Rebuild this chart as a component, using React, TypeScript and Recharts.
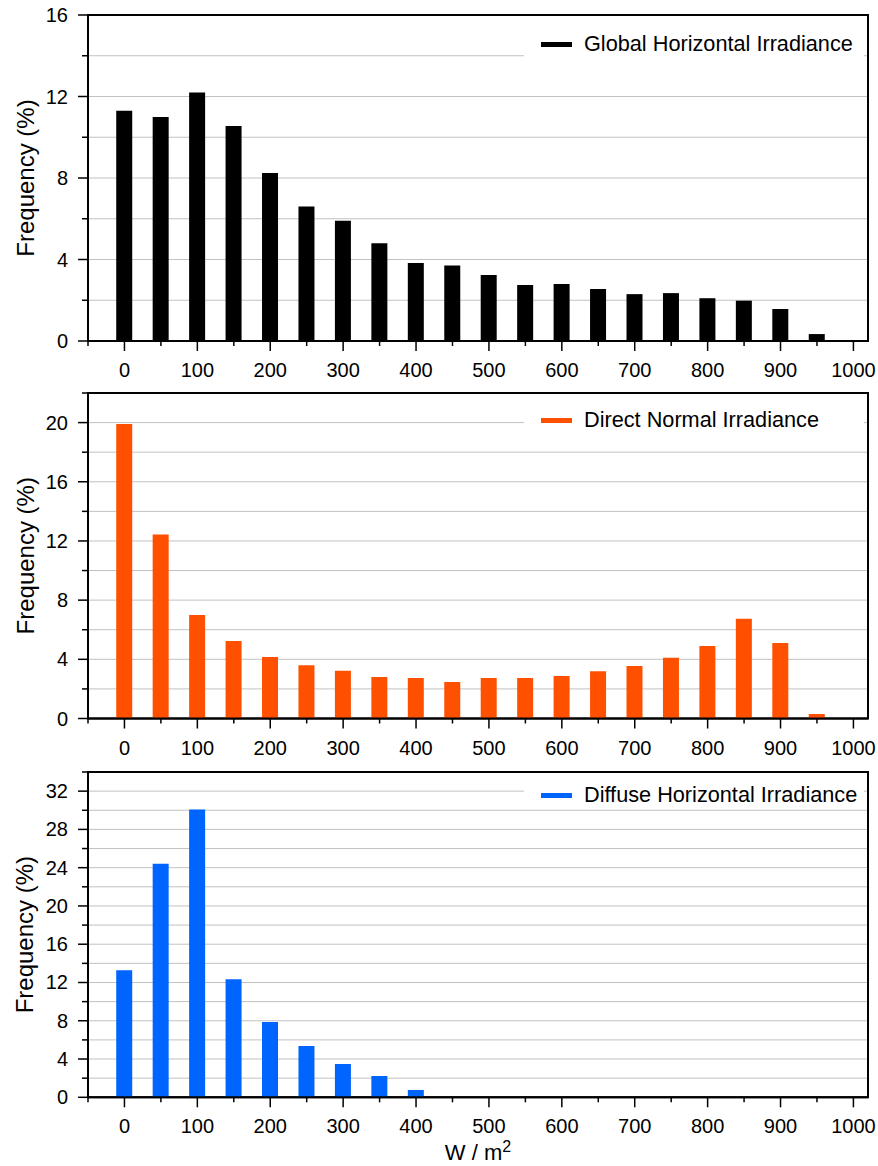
import React from "react";
import { Bar, BarChart, CartesianGrid, Legend, ReferenceArea, XAxis, YAxis } from "recharts";

const bins = [0, 50, 100, 150, 200, 250, 300, 350, 400, 450, 500, 550, 600, 650, 700, 750, 800, 850, 900, 950];

const ghiValues = [11.3, 11.0, 12.2, 10.55, 8.25, 6.6, 5.9, 4.8, 3.83, 3.7, 3.24, 2.75, 2.8, 2.55, 2.3, 2.35, 2.1, 1.98, 1.57, 0.34];
const dniValues = [19.9, 12.43, 7.0, 5.24, 4.16, 3.6, 3.22, 2.8, 2.73, 2.46, 2.73, 2.73, 2.87, 3.2, 3.55, 4.1, 4.9, 6.75, 5.1, 0.3];
const dhiValues = [13.28, 24.42, 30.09, 12.35, 7.86, 5.36, 3.48, 2.22, 0.76, 0, 0, 0, 0, 0, 0, 0, 0, 0, 0, 0];

const xTicks = [-50, 0, 50, 100, 150, 200, 250, 300, 350, 400, 450, 500, 550, 600, 650, 700, 750, 800, 850, 900, 950, 1000];
const ghiTicks = [0, 2, 4, 6, 8, 10, 12, 14, 16];
const dniTicks = [0, 2, 4, 6, 8, 10, 12, 14, 16, 18, 20, 22];
const dhiTicks = [0, 2, 4, 6, 8, 10, 12, 14, 16, 18, 20, 22, 24, 26, 28, 30, 32, 34];

const FONT = '"Liberation Sans", Arial, Helvetica, sans-serif';
const X_MIN = -50;
const X_MAX = 1020;

function XTick(props: any) {
  const { x, y, payload } = props;
  const major = payload.value % 100 === 0;
  return (
    <g>
      <line x1={x} x2={x} y1={y} y2={y + (major ? 10 : 5)} stroke="#000" strokeWidth={1.5} />
      {major && (
        <text x={x} y={y + 36} textAnchor="middle" fontSize={20} fontFamily={FONT} fill="#000">
          {payload.value}
        </text>
      )}
    </g>
  );
}

function YTick(props: any) {
  const { x, y, payload } = props;
  const major = payload.value % 4 === 0;
  return (
    <g>
      <line x1={x} x2={x - (major ? 10 : 6)} y1={y} y2={y} stroke="#000" strokeWidth={1.5} />
      {major && (
        <text x={x - 20} y={y + 7} textAnchor="end" fontSize={20} fontFamily={FONT} fill="#000">
          {payload.value}
        </text>
      )}
    </g>
  );
}

type PanelProps = {
  values: number[];
  color: string;
  name: string;
  yTicks: number[];
  top: number;
  height: number;
  marginTop: number;
  marginBottom: number;
  legendTop: number;
  showTitle?: boolean;
};

function Panel({ values, color, name, yTicks, top, height, marginTop, marginBottom, legendTop, showTitle }: PanelProps) {
  const data = bins.map((bin, i) => ({ bin, value: values[i] }));
  const yMax = yTicks[yTicks.length - 1];
  return (
    <div style={{ position: "absolute", left: 0, top }}>
      <BarChart
        width={878}
        height={height}
        data={data}
        margin={{ top: marginTop, right: 10, bottom: marginBottom, left: 28 }}
      >
        <CartesianGrid vertical={false} stroke="#c2c2c2" strokeWidth={1} />
        <XAxis
          type="number"
          dataKey="bin"
          domain={[X_MIN, X_MAX]}
          ticks={xTicks}
          interval={0}
          allowDataOverflow
          tick={<XTick />}
          tickLine={false}
          tickSize={0}
          tickMargin={0}
          axisLine={{ stroke: "#000", strokeWidth: 2 }}
          height={40}
          label={
            showTitle
              ? {
                  content: (p: any) => {
                    const vb = p.viewBox;
                    return (
                      <text
                        x={vb.x + vb.width / 2}
                        y={vb.y + 63}
                        textAnchor="middle"
                        fontSize={22}
                        fontFamily={FONT}
                        fill="#000"
                      >
                        W / m
                        <tspan dy={-8} fontSize={16}>
                          2
                        </tspan>
                      </text>
                    );
                  },
                }
              : undefined
          }
        />
        <YAxis
          type="number"
          domain={[0, yMax]}
          ticks={yTicks}
          interval={0}
          allowDataOverflow
          tick={<YTick />}
          tickLine={false}
          tickSize={0}
          tickMargin={0}
          axisLine={{ stroke: "#000", strokeWidth: 2 }}
          width={60}
          label={{
            content: (p: any) => {
              const vb = p.viewBox;
              const cy = vb.y + vb.height / 2;
              return (
                <text
                  x={25}
                  y={cy}
                  transform={`rotate(-90, 25, ${cy})`}
                  textAnchor="middle"
                  dominantBaseline="central"
                  fontSize={24}
                  fontFamily={FONT}
                  fill="#000"
                >
                  Frequency (%)
                </text>
              );
            },
          }}
        />
        <Legend
          layout="vertical"
          verticalAlign="middle"
          align="center"
          wrapperStyle={{ left: 524, top: legendTop, width: 340, height: 26 }}
          content={() => (
            <div
              style={{
                background: "#fff",
                width: 340,
                height: 26,
                display: "flex",
                alignItems: "center",
                fontFamily: FONT,
                fontSize: 21.7,
                lineHeight: "26px",
                color: "#000",
                whiteSpace: "nowrap",
              }}
            >
              <span style={{ display: "inline-block", width: 31, height: 5, background: color, marginLeft: 17, marginRight: 12 }} />
              <span>{name}</span>
            </div>
          )}
        />
        <Bar dataKey="value" name={name} fill={color} barSize={16} isAnimationActive={false} />
        <ReferenceArea
          x1={X_MIN}
          x2={X_MAX}
          y1={0}
          y2={yMax}
          fill="none"
          fillOpacity={0}
          stroke="#000"
          strokeWidth={2}
          ifOverflow="visible"
        />
      </BarChart>
    </div>
  );
}

export default function App() {
  return (
    <div style={{ position: "absolute", left: 0, top: 0, width: 878, height: 1166, background: "#fff" }}>
      <Panel
        values={ghiValues}
        color="#000000"
        name="Global Horizontal Irradiance"
        yTicks={ghiTicks}
        top={0}
        height={385}
        marginTop={15}
        marginBottom={4}
        legendTop={31}
      />
      <Panel
        values={dniValues}
        color="#ff5000"
        name="Direct Normal Irradiance"
        yTicks={dniTicks}
        top={380}
        height={380}
        marginTop={13}
        marginBottom={1.5}
        legendTop={27}
      />
      <Panel
        values={dhiValues}
        color="#0064ff"
        name="Diffuse Horizontal Irradiance"
        yTicks={dhiTicks}
        top={760}
        height={406}
        marginTop={12}
        marginBottom={28.7}
        legendTop={22}
        showTitle
      />
    </div>
  );
}
